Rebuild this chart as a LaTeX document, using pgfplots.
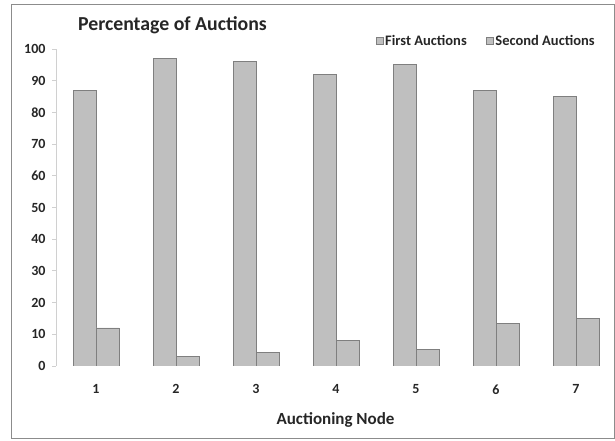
\documentclass[border=0pt]{standalone}
\usepackage{pgfplots}
\pgfplotsset{compat=1.18}
\usepackage{fontspec}
\setmainfont{Carlito}
\definecolor{barfill}{HTML}{BFBFBF}
\definecolor{baredge}{HTML}{7F7F7F}
\definecolor{axgray}{HTML}{D0D0D0}
\definecolor{framegray}{HTML}{8C8C8C}
\begin{document}
\begin{tikzpicture}[x=1pt,y=1pt]
\useasboundingbox (0,0) rectangle (615,441);
\draw[framegray, line width=0.9pt] (11.5,2.2) rectangle (614,436.5);
\node[font=\fontsize{19.8}{22}\selectfont\bfseries, text=black!85] at (172.5,416) {Percentage of Auctions};
\node[font=\fontsize{17}{19}\selectfont\bfseries, text=black!85] at (335.5,21) {Auctioning Node};
\begin{axis}[
  at={(56pt,75pt)}, anchor=south west,
  scale only axis, width=560pt, height=317pt,
  xmin=0.5, xmax=7.5, ymin=0, ymax=100,
  ybar=0pt, bar width=23pt,
  axis x line*=bottom, axis y line*=left,
  x axis line style={draw=none},
  y axis line style={draw=axgray, line width=0.8pt, -},
  xtick={1,...,7},
  xticklabels={1,2,3,4,5,6,7},
  major x tick style={draw=none},
  extra x ticks={1.5,2.5,3.5,4.5,5.5,6.5},
  extra x tick labels={},
  extra x tick style={tick style={draw=axgray, line width=0.8pt}, major tick length=5pt, tick align=outside},
  ytick={0,10,...,100},
  ytick style={draw=axgray, line width=0.8pt},
  tick align=outside, major tick length=4pt,
  /pgf/number format/assume math mode=true,
  ticklabel style={font=\fontsize{14}{16}\selectfont\bfseries, text=black!85},
  yticklabel style={xshift=-3pt},
  xticklabel style={yshift=-11pt},
  legend columns=2,
  legend style={at={(0.565,1.025)}, anchor=west, draw=none, fill=none,
    font=\fontsize{14.5}{16}\selectfont\bfseries, text=black!85,
    /tikz/every even column/.append style={column sep=17pt}},
  legend image code/.code={\draw[fill=barfill, draw=baredge, line width=0.6pt] (0pt,-3.5pt) rectangle (7pt,3.5pt);},
]
\addplot[fill=barfill, draw=baredge, line width=0.7pt] coordinates {(1,87) (2,97) (3,96) (4,92) (5,95) (6,87) (7,85)};
\addplot[fill=barfill, draw=baredge, line width=0.7pt] coordinates {(1,12) (2,3) (3,4.2) (4,8) (5,5.3) (6,13.3) (7,15)};
\legend{First Auctions, Second Auctions}
\end{axis}
\end{tikzpicture}
\end{document}
